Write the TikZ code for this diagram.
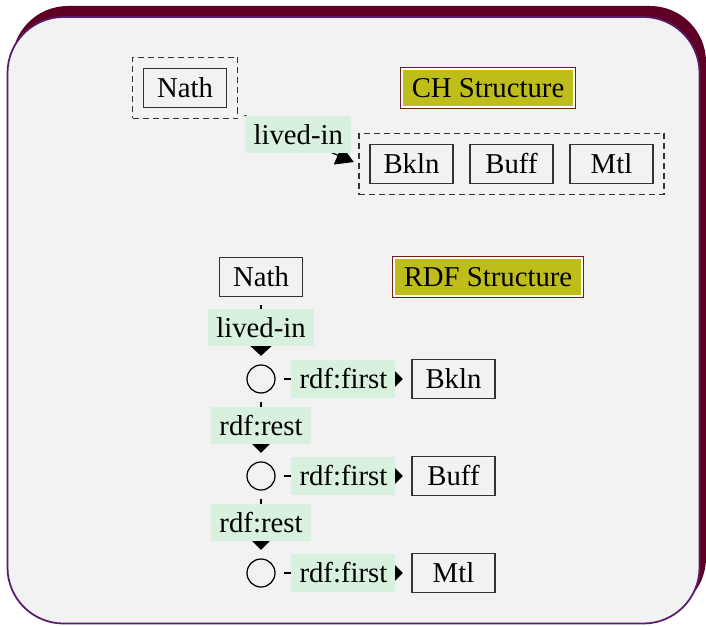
\documentclass[tikz,border=0pt]{standalone}
\usepackage{fontspec}
\setmainfont{Liberation Serif}
\usetikzlibrary{fit,arrows.meta}

\definecolor{panelgray}{RGB}{242,242,242}
\definecolor{paneledge}{RGB}{88,28,104}
\definecolor{panelshadow}{RGB}{94,0,38}
\definecolor{headfill}{RGB}{191,189,26}
\definecolor{headedge}{RGB}{110,30,20}
\definecolor{labelfill}{RGB}{216,240,222}

\tikzset{
  itembox/.style={draw=black!80, line width=0.6pt, minimum width=33.2pt,
    minimum height=15.6pt, inner sep=0pt},
  groupbox/.style={draw=black!80, line width=0.45pt,
    dash pattern=on 2.4pt off 1.6pt, inner sep=4.1pt},
  headbox/.style={preaction={draw=headedge, line width=1.6pt}, fill=headfill,
    draw=white, line width=0.6pt, inner xsep=3.9pt, minimum height=15.2pt},
  listnode/.style={circle, draw, line width=0.5pt, minimum size=11.2pt, inner sep=0pt},
  edgelbl/.style={fill=labelfill, inner xsep=3.25pt, inner ysep=3.4pt},
  linkedge/.style={draw, line width=0.5pt, shorten <=3.2pt, shorten >=3.4pt,
    -{Triangle[length=4pt,width=8pt]}},
}

\begin{document}
\begin{tikzpicture}[x=0.4pt, y=-0.4pt, font=\fontsize{11.5}{14}\selectfont]
  \useasboundingbox (0,0) rectangle (706,626);
  % panel
  \fill[panelshadow, rounded corners=22.4pt] (12,6) rectangle (706,614);
  \filldraw[fill=panelgray, draw=paneledge, line width=0.7pt, rounded corners=22.4pt]
    (7.5,17) rectangle (699.5,623.5);

  % CH structure
  \draw
    (185,88) node[itembox] (chnath) {Nath}
    (411.5,164) node[itembox] (chbkln) {Bkln}
    (511.5,164) node[itembox] (chbuff) {Buff}
    (611.5,164) node[itembox] (chmtl) {Mtl}
    (488,88) node[headbox] (chhead) {CH Structure};
  \node[groupbox, fit=(chnath)] (chfrom) {};
  \node[groupbox, fit=(chbkln) (chmtl)] (chto) {};
  \draw[linkedge, shorten <=2.8pt, shorten >=2pt, -{Triangle[length=7pt,width=8pt]}]
    (chfrom.-25) to node[edgelbl, yshift=1.6pt] {lived-in} (chto.west);

  % RDF structure
  \draw
    (261,277) node[itembox] (rdfnath) {Nath}
    (261,379) node[listnode] (cell1) {}
    (261,476) node[listnode] (cell2) {}
    (261,573) node[listnode] (cell3) {}
    (453.5,379) node[itembox] (rdfbkln) {Bkln}
    (453.5,476) node[itembox] (rdfbuff) {Buff}
    (453.5,573) node[itembox] (rdfmtl) {Mtl}
    (488,277) node[headbox] (rdfhead) {RDF Structure};
  \begin{scope}[linkedge]
    \draw[-{Triangle[length=4.4pt,width=9.4pt]}]
      (rdfnath) to node[edgelbl, pos=0.45] {lived-in} (cell1);
    \draw (cell1) to node[edgelbl] {rdf:first} (rdfbkln);
    \draw (cell1) to node[edgelbl, pos=0.47] {rdf:rest} (cell2);
    \draw (cell2) to node[edgelbl] {rdf:first} (rdfbuff);
    \draw (cell2) to node[edgelbl, pos=0.47] {rdf:rest} (cell3);
    \draw (cell3) to node[edgelbl] {rdf:first} (rdfmtl);
  \end{scope}
\end{tikzpicture}
\end{document}
